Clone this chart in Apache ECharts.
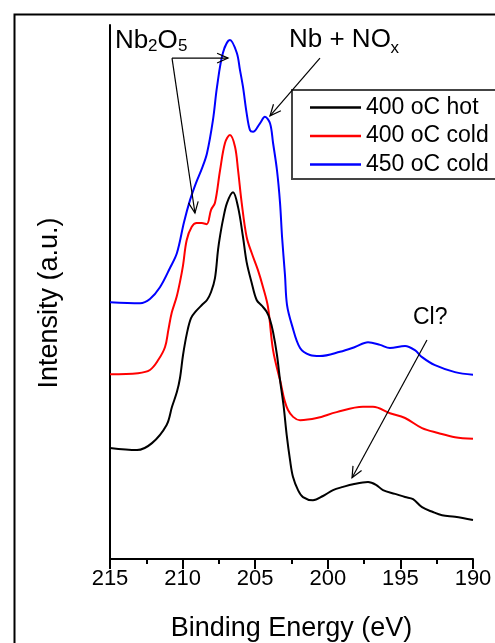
<!DOCTYPE html>
<html>
<head>
<meta charset="utf-8">
<script src="https://cdn.jsdelivr.net/npm/echarts@6/dist/echarts.min.js"></script>
<style>
html,body{margin:0;padding:0;background:#fff;}
#chart{width:495px;height:643px;}
</style>
</head>
<body>
<div id="chart"></div>
<script>
// ---- data ----
var seriesNames = ['400 oC hot', '400 oC cold', '450 oC cold'];
var xTicks = [215, 210, 205, 200, 195, 190];

var hotE = [215, 213.14, 212.11, 211.1, 210.73, 210.39, 210.18, 209.97, 209.7, 209.42, 209.08, 208.66, 208.32, 208.04, 207.77, 207.56, 207.42, 207.22, 206.94, 206.53, 206.18, 205.84, 205.59, 205.24, 204.9, 204.53, 204.21, 203.98, 203.77, 203.5, 203.29, 203.05, 202.83, 202.6, 202.4, 202.05, 201.71, 201.02, 200.33, 199.64, 198.95, 198.26, 197.23, 196.68, 196.2, 195.37, 194.68, 194.13, 193.51, 192.76, 192.13, 191.24, 190];
var hotI = [20.8, 20.4, 21.7, 25.1, 28.5, 31.3, 33.9, 38.2, 42.3, 45.1, 46.4, 47.6, 48.5, 50.0, 52.6, 57.9, 60.5, 63.5, 66.7, 68.7, 65.9, 60.3, 55.6, 51.7, 48.5, 47.4, 46.3, 44.8, 42.5, 38.2, 33.5, 28.8, 23.2, 18.5, 15.4, 12.9, 11.6, 11.0, 11.8, 12.9, 13.5, 14.0, 14.4, 13.9, 12.9, 12.2, 11.6, 11.2, 9.7, 8.8, 8.2, 7.9, 7.3];

var cold400E = [215, 213.07, 212.25, 211.67, 211.21, 210.98, 210.75, 210.41, 210.18, 209.97, 209.72, 209.37, 209.03, 208.68, 208.34, 208.04, 207.77, 207.42, 207.08, 206.74, 206.39, 206.18, 205.93, 205.59, 205.24, 204.81, 204.46, 204.12, 203.77, 203.29, 202.74, 201.91, 200.76, 199.39, 197.58, 196.89, 195.72, 194.68, 193.51, 192.41, 191.24, 190];
var cold400I = [34.6, 34.8, 35.4, 37.3, 39.7, 42.9, 46.1, 49.1, 51.9, 55.0, 59.7, 62.2, 62.9, 62.9, 62.7, 65.4, 66.7, 72.8, 77.9, 79.4, 77.2, 72.8, 66.7, 60.3, 57.3, 54.1, 50.9, 47.2, 39.1, 33.5, 27.9, 26.0, 26.4, 27.5, 28.5, 28.5, 27.3, 26.4, 24.5, 23.6, 22.8, 22.5];

var cold450E = [215, 212.93, 212.25, 211.56, 210.87, 210.39, 209.9, 209.49, 209.08, 208.66, 208.32, 207.91, 207.63, 207.22, 206.74, 206.27, 206.05, 205.84, 205.59, 205.36, 205.15, 204.67, 204.33, 203.98, 203.77, 203.5, 203.29, 203.15, 202.95, 202.81, 202.47, 201.91, 201.23, 200.54, 199.16, 198.13, 197.23, 196.4, 195.72, 194.68, 194.0, 193.51, 192.62, 191.24, 190.0];
var cold450I = [48.1, 47.9, 48.7, 50.9, 54.5, 57.3, 63.1, 67.2, 70.4, 73.2, 76.0, 82.2, 88.4, 94.8, 97.2, 94.8, 91.6, 88.4, 83.5, 80.3, 80.0, 81.6, 82.8, 81.6, 77.9, 72.8, 66.7, 60.3, 53.2, 47.6, 43.8, 39.5, 38.2, 38.0, 38.8, 39.7, 40.6, 40.1, 39.5, 39.9, 39.1, 37.8, 36.3, 35.0, 34.5];

// annotation arrows (data coordinates)
var arrowFromE = [210.73, 210.73, 200.54, 193.17];
var arrowFromI = [93.8, 93.8, 93.8, 41.0];
var arrowToE = [206.87, 209.15, 203.98, 198.33];
var arrowToI = [93.8, 64.8, 83.0, 15.2];

// ---- build ----
function pairs(e, v) { return e.map(function (x, i) { return [x, v[i]]; }); }
var FONT = 'Liberation Sans, Arial, sans-serif';
var colors = ['#000000', '#ff0000', '#0000ff'];
var seriesData = [pairs(hotE, hotI), pairs(cold400E, cold400I), pairs(cold450E, cold450I)];

var arrowData = arrowFromE.map(function (x, i) { return [x, arrowFromI[i], arrowToE[i], arrowToI[i]]; });

var chart = echarts.init(document.getElementById('chart'), null, { renderer: 'canvas' });

var series = seriesNames.map(function (n, i) {
  return {
    name: n, type: 'line', data: seriesData[i], showSymbol: false, symbol: 'none',
    smooth: 0.35, lineStyle: { color: colors[i], width: 2 }, itemStyle: { color: colors[i] },
    z: 3 - i
  };
});
series.push({
  type: 'custom', name: 'arrows', silent: true, z: 5,
  data: arrowData,
  encode: { x: [0, 2], y: [1, 3] },
  renderItem: function (params, api) {
    var p1 = api.coord([api.value(0), api.value(1)]);
    var p2 = api.coord([api.value(2), api.value(3)]);
    var ang = Math.atan2(p2[1] - p1[1], p2[0] - p1[0]);
    var L = 12, a = 0.42;
    var h1 = [p2[0] - L * Math.cos(ang - a), p2[1] - L * Math.sin(ang - a)];
    var h2 = [p2[0] - L * Math.cos(ang + a), p2[1] - L * Math.sin(ang + a)];
    var st = { stroke: '#000', lineWidth: 1.2, fill: null };
    return {
      type: 'group', children: [
        { type: 'line', shape: { x1: p1[0], y1: p1[1], x2: p2[0], y2: p2[1] }, style: st },
        { type: 'polyline', shape: { points: [h1, p2, h2] }, style: st }
      ]
    };
  }
});

var option = {
  animation: false,
  backgroundColor: '#fff',
  grid: { left: 110, right: 22, top: 25, bottom: 84, containLabel: false, outerBoundsMode: 'none' },
  xAxis: {
    type: 'value', inverse: true, min: 190, max: 215, interval: 5,
    axisLine: { show: true, lineStyle: { color: '#000', width: 2 } },
    axisTick: { show: true, inside: false, length: 10, lineStyle: { color: '#000', width: 2 } },
    minorTick: { show: true, splitNumber: 2, length: 5, lineStyle: { color: '#000', width: 2 } },
    splitLine: { show: false },
    axisLabel: { color: '#000', fontSize: 22, fontFamily: FONT, margin: 9,
      formatter: function (v) { return xTicks.indexOf(v) >= 0 ? String(v) : ''; } },
    name: 'Binding Energy (eV)', nameLocation: 'middle', nameGap: 56,
    nameTextStyle: { color: '#000', fontSize: 27, fontFamily: FONT }
  },
  yAxis: {
    type: 'value', min: 0, max: 100,
    axisLine: { show: true, lineStyle: { color: '#000', width: 2 } },
    axisTick: { show: false }, axisLabel: { show: false }, splitLine: { show: false }
  },
  legend: {
    data: seriesNames, orient: 'vertical', left: 292, top: 90,
    padding: [6, 18, 6, 18], itemGap: 5.5, itemWidth: 51, itemHeight: 2.5, icon: 'rect',
    borderWidth: 0, backgroundColor: 'transparent',
    textStyle: { color: '#000', fontSize: 23, fontFamily: FONT, lineHeight: 22 }
  },
  graphic: [
    { type: 'rect', left: 12, top: 12, shape: { x: 0, y: 0, width: 540, height: 680 }, style: { fill: null, stroke: '#000', lineWidth: 2 }, silent: true, z: 0 },
    { type: 'rect', x: 292, y: 90, shape: { x: 0, y: 0, width: 240, height: 89 }, style: { fill: '#fff', stroke: '#444', lineWidth: 2 }, silent: true, z: 1 },
    { type: 'text', x: 50, y: 303, rotation: Math.PI / 2, style: { text: 'Intensity (a.u.)', fill: '#000', font: '27px ' + FONT, align: 'center', verticalAlign: 'middle' } },
    { type: 'text', x: 115, y: 40.5, style: { text: 'Nb', fill: '#000', font: '26px ' + FONT, verticalAlign: 'middle' } },
    { type: 'text', x: 148, y: 46.5, style: { text: '2', fill: '#000', font: '17px ' + FONT, verticalAlign: 'middle' } },
    { type: 'text', x: 157.6, y: 40.5, style: { text: 'O', fill: '#000', font: '26px ' + FONT, verticalAlign: 'middle' } },
    { type: 'text', x: 178, y: 46.5, style: { text: '5', fill: '#000', font: '17px ' + FONT, verticalAlign: 'middle' } },
    { type: 'text', x: 289, y: 39.5, style: { text: 'Nb + NO', fill: '#000', font: '26px ' + FONT, verticalAlign: 'middle' } },
    { type: 'text', x: 390.5, y: 48, style: { text: 'x', fill: '#000', font: '17px ' + FONT, verticalAlign: 'middle' } },
    { type: 'text', x: 413, y: 318, style: { text: 'Cl?', fill: '#000', font: '23px ' + FONT, verticalAlign: 'middle' } }
  ],
  series: series
};
chart.setOption(option);
</script>
</body>
</html>
